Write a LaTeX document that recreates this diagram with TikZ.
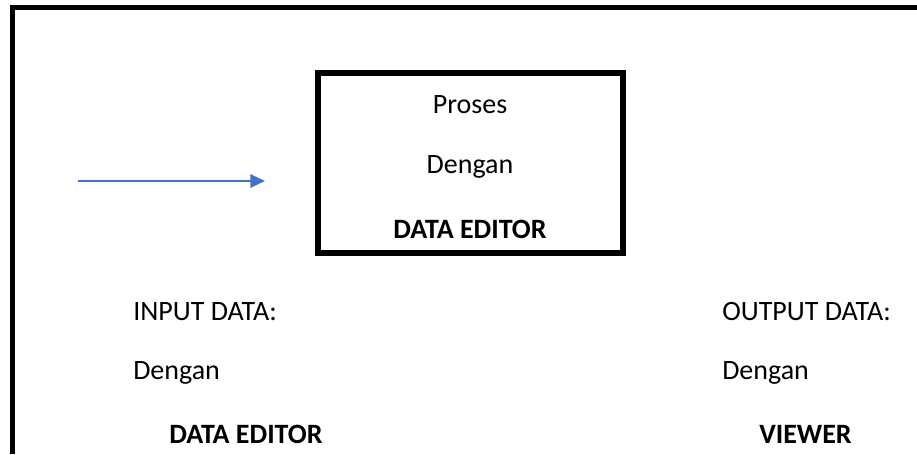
\documentclass[tikz,border=0pt]{standalone}
\usepackage{fontspec}
\setmainfont{Carlito}
\usetikzlibrary{arrows.meta}
\definecolor{arrowblue}{HTML}{4472C4}
\tikzset{
	txt/.style={inner sep=0pt, font=\fontsize{21}{24}\selectfont},
	lbl/.style={txt, anchor=base west},
	mid/.style={txt, anchor=base}
}
\begin{document}
\begin{tikzpicture}[x=0.75pt,y=-0.75pt]
		\useasboundingbox (0,0) rectangle (917,454);
		\draw[line width=4pt] (12.5,454) -- (12.5,7.75) -- (917,7.75);

		\node[draw, line width=4.5pt, minimum width=228.75pt, minimum height=135pt] (proc) at (470.5,163) {};
		\node[mid] (proses) at (470,113) {Proses};
		\node[mid] (dengan) at (470,173) {Dengan};
		\node[mid] (editor) at (470,238) {\textbf{DATA EDITOR}};

		\coordinate (src) at (78,181);
		\coordinate (dst) at (265,181);
		\draw[arrowblue, line width=1.6pt, -{Triangle[length=11pt,width=10pt]}] (src) -- (dst);

		\node[lbl] (input) at (133,320) {INPUT DATA:};
		\node[lbl] (indengan) at (133,379) {Dengan};
		\node[lbl] (ineditor) at (169,443) {\textbf{DATA EDITOR}};

		\node[lbl] (output) at (722,320) {OUTPUT DATA:};
		\node[lbl] (outdengan) at (722,379) {Dengan};
		\node[lbl] (viewer) at (759,443) {\textbf{VIEWER}};
	\end{tikzpicture}
\end{document}
